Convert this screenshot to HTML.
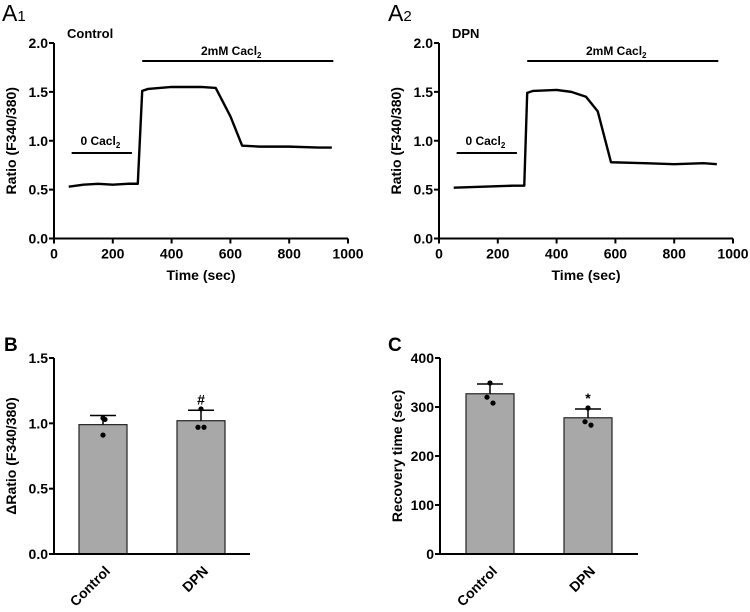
<!DOCTYPE html>
<html><head><meta charset="utf-8"><style>
body{margin:0;background:#fff;}
svg{display:block;font-family:"Liberation Sans",Arial,sans-serif;font-weight:bold;}
</style></head><body>
<svg id="s" width="750" height="612" viewBox="0 0 750 612">
<text x="2" y="21" font-size="23" font-weight="normal">A<tspan font-size="15">1</tspan></text>
<text x="388" y="21" font-size="23" font-weight="normal">A<tspan font-size="15">2</tspan></text>
<text x="4" y="351" font-size="19">B</text>
<text x="388" y="351" font-size="19">C</text>
</svg>
<script>
const traceControlT=[50,100,150,200,250,285,300,320,400,500,550,600,640,700,800,900,945];
const traceControlV=[0.53,0.55,0.56,0.55,0.56,0.56,1.51,1.53,1.55,1.55,1.54,1.25,0.95,0.94,0.94,0.93,0.93];
const traceDpnT=[50,150,250,290,300,320,400,450,500,540,585,700,800,900,945];
const traceDpnV=[0.52,0.53,0.54,0.54,1.49,1.51,1.52,1.50,1.45,1.30,0.78,0.77,0.76,0.77,0.76];
const xTicks=[0,200,400,600,800,1000];
const yTicksA=[0.0,0.5,1.0,1.5,2.0];
const barCats=["Control","DPN"];
const deltaMeans=[0.99,1.02];
const deltaErr=[1.06,1.10];
const deltaPts=[[1.04,1.03,0.91],[1.11,0.97,0.97]];
const recMeans=[327,278];
const recErr=[347,296];
const recPts=[[349,320,308],[298,270,263]];
const yTicksB=[0.0,0.5,1.0,1.5];
const yTicksC=[0,100,200,300,400];

const S=document.getElementById('s');const NS='http://www.w3.org/2000/svg';
function mk(tag,at,txt){const e=document.createElementNS(NS,tag);for(const k in at)e.setAttribute(k,at[k]);if(txt!==undefined)e.textContent=txt;S.appendChild(e);return e;}

function trace(ox,T,V,title,nm){
  const x=t=>ox+t/1000*294, y=v=>238.5-v/2*195.5;
  let e=mk('line',{x1:ox,y1:y(2),x2:ox,y2:y(0)+1,stroke:'#000','stroke-width':2});
  
  e=mk('line',{x1:ox-1,y1:y(0),x2:x(1000),y2:y(0),stroke:'#000','stroke-width':2});
  
  xTicks.forEach(t=>{mk('line',{x1:x(t),y1:y(0),x2:x(t),y2:y(0)+5,stroke:'#000','stroke-width':2});
    e=mk('text',{x:x(t),y:y(0)+20,'font-size':14,'text-anchor':'middle'},t);
    });
  yTicksA.forEach(v=>{mk('line',{x1:ox-5,y1:y(v),x2:ox,y2:y(v),stroke:'#000','stroke-width':2});
    e=mk('text',{x:ox-6,y:y(v)+5,'font-size':14,'text-anchor':'end'},v.toFixed(1));
    });
  e=mk('text',{x:x(500),y:280,'font-size':14,'text-anchor':'middle'},'Time (sec)');
  
  e=mk('text',{transform:`translate(${ox-38},${y(1)}) rotate(-90)`,'font-size':14,'text-anchor':'middle'},'Ratio (F340/380)');
  
  e=mk('text',{x:ox+13,y:38,'font-size':13},title);
  
  e=mk('line',{x1:x(300),y1:61,x2:x(950),y2:61,stroke:'#000','stroke-width':2});
  
  e=mk('text',{x:x(500),y:55,'font-size':12});e.innerHTML='2mM Cacl<tspan font-size="8" dy="3">2</tspan>';
  
  e=mk('line',{x1:x(60),y1:153,x2:x(265),y2:153,stroke:'#000','stroke-width':2});
  
  e=mk('text',{x:x(90),y:145,'font-size':12});e.innerHTML='0 Cacl<tspan font-size="8" dy="3">2</tspan>';
  
  e=mk('polyline',{points:T.map((t,i)=>x(t)+','+y(V[i])).join(' '),fill:'none',stroke:'#000','stroke-width':2.4,'stroke-linejoin':'round'});
  
}
trace(54,traceControlT,traceControlV,'Control','a1');
trace(439,traceDpnT,traceDpnV,'DPN','a2');

function bars(ox,xEnd,ymax,ticks,dec,means,err,pts,title,marks,nm,cx){
  const y=v=>554-v/ymax*196;
  let e=mk('line',{x1:ox,y1:y(ymax),x2:ox,y2:555,stroke:'#000','stroke-width':2});
  
  ticks.forEach(v=>{mk('line',{x1:ox-5,y1:y(v),x2:ox,y2:y(v),stroke:'#000','stroke-width':2});
    e=mk('text',{x:ox-6,y:y(v)+5,'font-size':14,'text-anchor':'end'},v.toFixed(dec));
    });
  barCats.forEach((c,i)=>{
    const x0=cx[i]-24;
    e=mk('rect',{x:x0,y:y(means[i]),width:48,height:554-y(means[i]),fill:'#a8a8a8',stroke:'#222','stroke-width':1.2});
    
    mk('line',{x1:cx[i],y1:y(means[i]),x2:cx[i],y2:y(err[i]),stroke:'#000','stroke-width':1.5});
    e=mk('line',{x1:cx[i]-13,y1:y(err[i]),x2:cx[i]+13,y2:y(err[i]),stroke:'#000','stroke-width':1.5});
    
    pts[i].forEach((p,j)=>{e=mk('circle',{cx:cx[i]+(j==0?0:(j==1?(nm=='b'&&i==0?2:-3):(nm=='b'&&i==0?0:3))),cy:y(p),r:2.6,fill:'#000'});
      });
    e=mk('text',{transform:`translate(${cx[i]+8},${572}) rotate(-45)`,'font-size':14,'text-anchor':'end'},c);
    
    if(marks[i]){e=mk('text',{x:cx[i],y:y(err[i])-6,'font-size':14,'text-anchor':'middle'},marks[i]);
      }
  });
  e=mk('line',{x1:ox-1,y1:554,x2:xEnd,y2:554,stroke:'#000','stroke-width':2});
  
  e=mk('text',{transform:`translate(${ox-38},${y(ymax/2)}) rotate(-90)`,'font-size':14,'text-anchor':'middle'},title);
  
}
bars(54,250,1.5,yTicksB,1,deltaMeans,deltaErr,deltaPts,'ΔRatio (F340/380)',['','#'],'b',[103,201]);
bars(440,638,400,yTicksC,0,recMeans,recErr,recPts,'Recovery time (sec)',['','*'],'c',[490,588]);
</script>
</body></html>
